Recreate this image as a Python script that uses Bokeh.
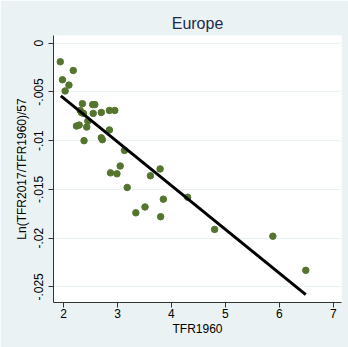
from bokeh.plotting import figure
from bokeh.models import FixedTicker, Range1d
from bokeh.embed import file_html
from bokeh.resources import INLINE

# data
tfr1960 = [1.94, 2.18, 1.98, 2.10, 2.03, 2.35, 2.54, 2.58, 2.33, 2.37,
           2.31, 2.55, 2.70, 2.85, 2.95, 2.45, 2.24, 2.29, 2.43, 2.85,
           2.70, 2.72, 2.38, 3.13, 3.05, 2.87, 2.99, 3.79, 3.61, 3.18,
           3.85, 4.30, 3.51, 3.34, 3.80, 4.80, 5.88, 6.49]
rate = [-0.0019, -0.0028, -0.00375, -0.0043, -0.0049, -0.0062, -0.0063, -0.0063, -0.0071, -0.0072,
        -0.0069, -0.0072, -0.0071, -0.0069, -0.0069, -0.0080, -0.0085, -0.0084, -0.0086, -0.0089,
        -0.0097, -0.0099, -0.0100, -0.0110, -0.0126, -0.0133, -0.0134, -0.0129, -0.0136, -0.0148,
        -0.0160, -0.0158, -0.0168, -0.0174, -0.0178, -0.0191, -0.0198, -0.0233]
fit_x = [1.95, 6.49]
fit_y = [-0.0054, -0.0258]
x_ticks = [2, 3, 4, 5, 6, 7]
y_ticks = [0, -0.005, -0.01, -0.015, -0.02, -0.025]
y_tick_labels = {0: "0", -0.005: "-.005", -0.01: "-.01", -0.015: "-.015", -0.02: "-.02", -0.025: "-.025"}

BG = "#EAF2F3"
FONT = "Liberation Sans"

p = figure(width=348, height=347, output_backend="svg", toolbar_location=None,
           x_range=Range1d(1.814, 7.152), y_range=Range1d(-0.0266, 0.00079),
           min_border_left=53, min_border_right=7, min_border_top=35, min_border_bottom=45)
p.border_fill_color = BG
p.background_fill_color = "white"
p.outline_line_color = None

p.title.text = "Europe"
p.title.align = "center"
p.title.text_font = FONT
p.title.text_font_size = "16px"
p.title.text_font_style = "normal"
p.title.text_color = "#1E2B4F"
p.title.standoff = 7

p.xgrid.grid_line_color = None
p.ygrid.grid_line_color = BG
p.ygrid.grid_line_width = 1.2

for ax in (p.xaxis[0], p.yaxis[0]):
    ax.axis_line_color = "#333333"
    ax.major_tick_line_color = "#333333"
    ax.major_tick_out = 5
    ax.major_tick_in = 0
    ax.minor_tick_line_color = None
    ax.major_label_text_font = FONT
    ax.major_label_text_font_size = "12px"
    ax.major_label_text_color = "black"
    ax.axis_label_text_font = FONT
    ax.axis_label_text_font_size = "12px"
    ax.axis_label_text_font_style = "normal"
    ax.axis_label_text_color = "black"

p.xaxis.ticker = FixedTicker(ticks=x_ticks)
p.xaxis.axis_label = "TFR1960"
p.xaxis.major_label_standoff = 1
p.xaxis.axis_label_standoff = 1

p.yaxis.ticker = FixedTicker(ticks=y_ticks)
p.yaxis.major_label_overrides = y_tick_labels
p.yaxis.major_label_orientation = "vertical"
p.yaxis.axis_label = "Ln(TFR2017/TFR1960)/57"
p.yaxis.major_label_standoff = 5
p.yaxis.axis_label_standoff = 3

p.scatter(tfr1960, rate, size=6.5, fill_color="#55752F", line_color="#55752F")
p.line(fit_x, fit_y, line_color="black", line_width=3)

open("out.html", "w").write(file_html(p, INLINE))
